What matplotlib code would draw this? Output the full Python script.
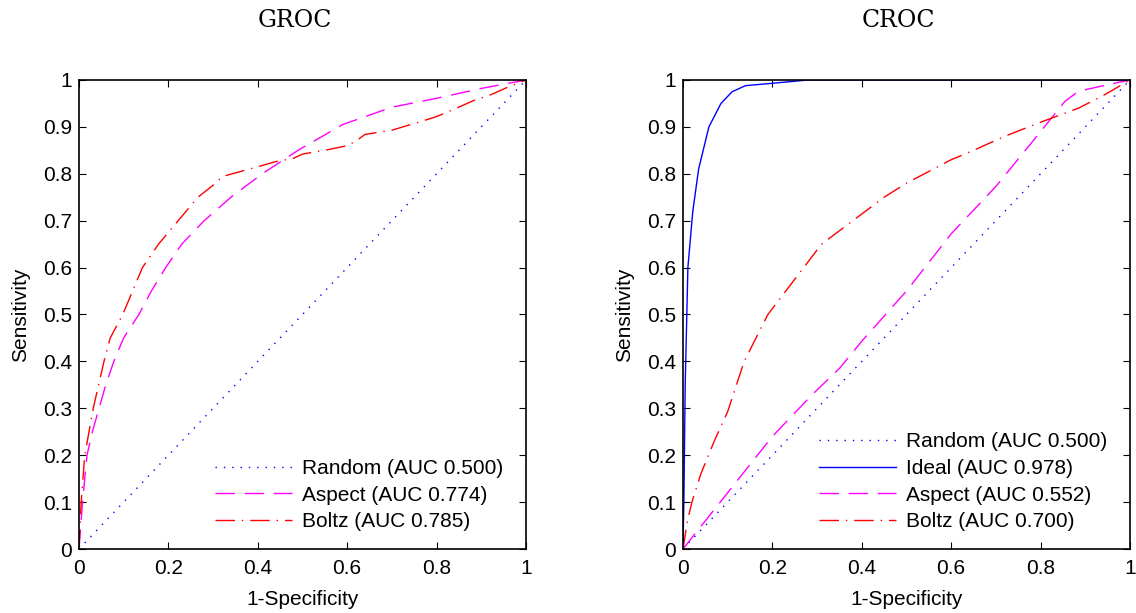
import matplotlib
matplotlib.use('Agg')
import matplotlib.pyplot as plt

plt.rcParams['font.family'] = ['Liberation Sans', 'DejaVu Sans']
plt.rcParams['font.size'] = 15

# GROC curves
groc_random_x = [0, 1]
groc_random_y = [0, 1]
groc_aspect_x = [0, 0.004, 0.008, 0.018, 0.03, 0.045, 0.06, 0.078, 0.10, 0.134, 0.162, 0.194, 0.23,
                 0.28, 0.34, 0.41, 0.49, 0.59, 0.7, 0.8, 0.9, 1.0]
groc_aspect_y = [0, 0.05, 0.1, 0.2, 0.25, 0.3, 0.35, 0.4, 0.45, 0.5, 0.55, 0.6, 0.65,
                 0.7, 0.75, 0.8, 0.85, 0.905, 0.942, 0.961, 0.982, 1.0]
groc_boltz_x = [0, 0.003, 0.005, 0.013, 0.032, 0.056, 0.07, 0.098, 0.142, 0.178, 0.222, 0.266, 0.306,
                0.32, 0.4, 0.44, 0.48, 0.5, 0.56, 0.6, 0.62, 0.64, 0.7, 0.76, 0.8, 0.84, 0.88,
                0.92, 0.96, 1.0]
groc_boltz_y = [0, 0.06, 0.1, 0.2, 0.3, 0.4, 0.45, 0.5, 0.6, 0.65, 0.7, 0.75, 0.78,
                0.794, 0.815, 0.826, 0.833, 0.842, 0.852, 0.86, 0.87, 0.884, 0.893, 0.91, 0.922,
                0.938, 0.955, 0.968, 0.985, 1.0]

# CROC curves
croc_random_x = [0, 1]
croc_random_y = [0, 1]
croc_ideal_x = [0, 0.002, 0.005, 0.011, 0.022, 0.035, 0.058, 0.085, 0.11, 0.14, 0.2, 0.28, 1.0]
croc_ideal_y = [0, 0.1, 0.35, 0.6, 0.72, 0.81, 0.9, 0.95, 0.975, 0.988, 0.993, 1.0, 1.0]
croc_aspect_x = [0, 0.05, 0.1, 0.15, 0.2, 0.29, 0.35, 0.4, 0.5, 0.6, 0.7, 0.8, 0.855, 0.885, 0.95, 1.0]
croc_aspect_y = [0, 0.06, 0.12, 0.18, 0.24, 0.33, 0.385, 0.443, 0.55, 0.672, 0.773, 0.89, 0.955,
                 0.976, 0.99, 1.0]
croc_boltz_x = [0, 0.01, 0.02, 0.04, 0.07, 0.1, 0.137, 0.19, 0.27, 0.31, 0.38, 0.45, 0.5, 0.54,
                0.6, 0.65, 0.72, 0.8, 0.885, 0.946, 1.0]
croc_boltz_y = [0, 0.06, 0.1, 0.16, 0.23, 0.293, 0.4, 0.5, 0.6, 0.65, 0.7, 0.75, 0.78, 0.8,
                0.83, 0.85, 0.88, 0.91, 0.94, 0.97, 1.0]

groc_labels = ['Random (AUC 0.500)', 'Aspect (AUC 0.774)', 'Boltz (AUC 0.785)']
croc_labels = ['Random (AUC 0.500)', 'Ideal (AUC 0.978)', 'Aspect (AUC 0.552)', 'Boltz (AUC 0.700)']

fig = plt.figure(figsize=(11.36, 6.13), dpi=100)
ax1 = fig.add_axes([0.0695, 0.1044, 0.3935, 0.7651])
ax2 = fig.add_axes([0.6012, 0.1044, 0.3935, 0.7651])

dotted = (0, (1, 5))
dashed = (0, (14, 7))
dashdot = (0, (14, 5, 1, 5))

ax1.plot(groc_random_x, groc_random_y, color='blue', linestyle=dotted, lw=1, label=groc_labels[0])
ax1.plot(groc_aspect_x, groc_aspect_y, color='magenta', linestyle=dashed, lw=1, label=groc_labels[1])
ax1.plot(groc_boltz_x, groc_boltz_y, color='red', linestyle=dashdot, lw=1, label=groc_labels[2])

ax2.plot(croc_random_x, croc_random_y, color='blue', linestyle=dotted, lw=1, label=croc_labels[0])
ax2.plot(croc_ideal_x, croc_ideal_y, color='blue', linestyle='-', lw=1, label=croc_labels[1])
ax2.plot(croc_aspect_x, croc_aspect_y, color='magenta', linestyle=dashed, lw=1, label=croc_labels[2])
ax2.plot(croc_boltz_x, croc_boltz_y, color='red', linestyle=dashdot, lw=1, label=croc_labels[3])

ticks = [0, 0.1, 0.2, 0.3, 0.4, 0.5, 0.6, 0.7, 0.8, 0.9, 1]
tick_labels = ['0', '0.1', '0.2', '0.3', '0.4', '0.5', '0.6', '0.7', '0.8', '0.9', '1']
xticks = [0, 0.2, 0.4, 0.6, 0.8, 1]
xtick_labels = ['0', '0.2', '0.4', '0.6', '0.8', '1']

for ax, title in [(ax1, 'GROC'), (ax2, 'CROC')]:
    ax.set_xlim(0, 1)
    ax.set_ylim(0, 1)
    ax.set_xticks(xticks)
    ax.set_xticklabels(xtick_labels)
    ax.set_yticks(ticks)
    ax.set_yticklabels(tick_labels)
    ax.tick_params(direction='in', top=True, right=True, length=5, width=0.8, labelsize=15, pad=5)
    ax.tick_params(axis='x', pad=7)
    for s in ax.spines.values():
        s.set_linewidth(1.2)
    ax.set_xlabel('1-Specificity', fontsize=15, labelpad=9)
    ax.set_ylabel('Sensitivity', fontsize=15, labelpad=9)
    ax.text(0.482, 1.127, title, transform=ax.transAxes, ha='center', va='center',
            fontsize=17, family='DejaVu Serif')
    ax.legend(loc='lower right', bbox_to_anchor=(0.989, 0), frameon=False, fontsize=15,
              handlelength=3.7, handletextpad=0.5, labelspacing=0.37, borderaxespad=0.45)

fig.savefig('out.png', dpi=100)
